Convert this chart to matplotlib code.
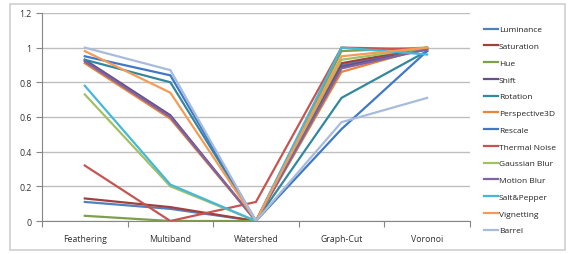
import matplotlib
matplotlib.use("Agg")
import matplotlib.pyplot as plt
from matplotlib.patches import Rectangle

plt.rcParams['font.family'] = ['Open Sans', 'DejaVu Sans']

categories = ["Feathering", "Multiband", "Watershed", "Graph-Cut", "Voronoi"]

# one list per series
luminance     = [0.11, 0.07, 0.00, 0.90, 0.99]
saturation    = [0.13, 0.08, 0.00, 0.91, 1.00]
hue           = [0.03, 0.00, 0.00, 0.98, 1.00]
shift         = [0.93, 0.61, 0.00, 0.89, 0.99]
rotation      = [0.93, 0.80, 0.00, 0.71, 0.98]
perspective3d = [0.91, 0.59, 0.00, 0.86, 1.00]
rescale       = [0.95, 0.84, 0.00, 0.53, 0.98]
thermal_noise = [0.32, 0.00, 0.11, 1.00, 0.99]
gaussian_blur = [0.73, 0.20, 0.00, 0.93, 1.00]
motion_blur   = [0.92, 0.60, 0.00, 0.88, 0.99]
salt_pepper   = [0.78, 0.21, 0.00, 1.00, 0.96]
vignetting    = [0.98, 0.74, 0.00, 0.95, 1.00]
barrel        = [1.00, 0.87, 0.00, 0.57, 0.71]

names = ["Luminance", "Saturation", "Hue", "Shift", "Rotation", "Perspective3D",
         "Rescale", "Thermal Noise", "Gaussian Blur", "Motion Blur", "Salt&Pepper",
         "Vignetting", "Barrel"]
series = [luminance, saturation, hue, shift, rotation, perspective3d, rescale,
          thermal_noise, gaussian_blur, motion_blur, salt_pepper, vignetting, barrel]
colors = ["#4F81BD", "#A0413E", "#7FA04A", "#66508A", "#31889F", "#E9843A",
          "#3F78C8", "#C65552", "#A2C064", "#8064A2", "#45B8D8", "#F59B55", "#A7BCDB"]

fig = plt.figure(figsize=(5.69, 2.55), dpi=100)
fig.patches.append(Rectangle((0.018, 0.015), 0.975, 0.965, transform=fig.transFigure,
                             fill=False, edgecolor="#D0D0D0", linewidth=1.2))
ax = fig.add_axes([0.0738, 0.1294, 0.752, 0.816])

x = list(range(len(categories)))
for name, vals, c in zip(names, series, colors):
    ax.plot(x, vals, color=c, lw=1.6, label=name, solid_joinstyle="miter")

ax.set_xlim(-0.5, 4.5)
ax.set_ylim(0, 1.2)
ax.set_yticks([0, 0.2, 0.4, 0.6, 0.8, 1, 1.2])
ax.set_yticklabels(["0", "0.2", "0.4", "0.6", "0.8", "1", "1.2"])
ax.yaxis.grid(True, color="#BEBEBE", lw=1)
ax.set_axisbelow(True)

ax.set_xticks([-0.5, 0.5, 1.5, 2.5, 3.5, 4.5])
ax.set_xticklabels([])
ax.set_xticks(x, minor=True)
ax.set_xticklabels(categories, minor=True)
ax.tick_params(axis="x", which="major", length=4, color="#868686", width=0.8)
ax.tick_params(axis="x", which="minor", length=0, pad=9, labelsize=6.3, labelcolor="#333333")
ax.tick_params(axis="y", length=4, color="#868686", width=0.8, labelsize=6.3, labelcolor="#333333")

for s in ["top", "right"]:
    ax.spines[s].set_visible(False)
for s in ["left", "bottom"]:
    ax.spines[s].set_color("#868686")
    ax.spines[s].set_linewidth(0.8)

leg = ax.legend(loc="upper left", bbox_to_anchor=(1.025, 0.955), frameon=False,
                fontsize=6.0, handlelength=1.7, handletextpad=0.1,
                labelspacing=1.07, borderaxespad=0)
for t in leg.get_texts():
    t.set_color("#222222")

fig.savefig("out.png", dpi=100)
